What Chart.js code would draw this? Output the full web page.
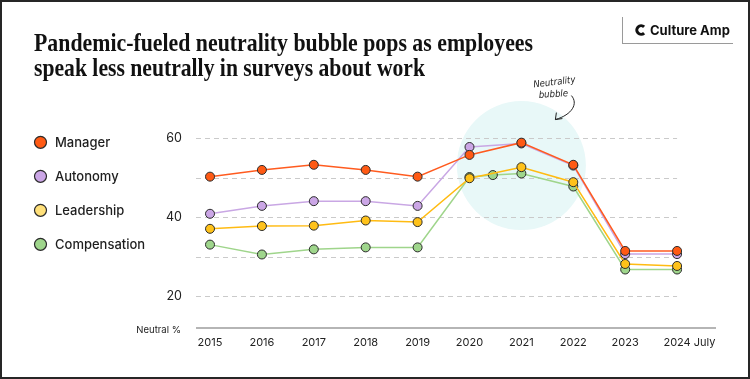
<!DOCTYPE html>
<html><head><meta charset="utf-8">
<script src="https://cdn.jsdelivr.net/npm/chart.js@4.4.1/dist/chart.umd.min.js"></script>
<style>
html,body{margin:0;padding:0;background:#fff;}
#wrap{position:relative;width:750px;height:379px;overflow:hidden;background:#fff;}
#frame{position:absolute;left:0;top:0;width:750px;height:379px;box-sizing:border-box;border:2px solid #262626;pointer-events:none;}
.tl{position:absolute;left:34px;white-space:nowrap;transform-origin:0 0;font-family:'Liberation Serif',serif;font-weight:700;font-size:25.5px;line-height:24px;color:#111;}
#logo{position:absolute;left:622px;top:17px;width:110px;height:26px;border-left:1px solid #9a9a9a;border-bottom:1px solid #9a9a9a;}
#logo svg{position:absolute;left:12px;top:7px;}
#logo span{position:absolute;left:27px;top:5px;font-family:Inter,'Noto Sans',sans-serif;font-weight:700;font-size:13px;line-height:16px;color:#111;white-space:nowrap;}
canvas{position:absolute;left:0;top:0;}
</style></head>
<body>
<div id="wrap">
<canvas id="c" width="750" height="379"></canvas>
<div class="tl" id="t1" style="top:31px">Pandemic-fueled neutrality bubble pops as employees</div>
<div class="tl" id="t2" style="top:55.5px">speak less neutrally in surveys about work</div>
<div id="logo"><svg width="12" height="12" viewBox="0 0 12 12"><path d="M9.1 2.9 A4.3 4.3 0 1 0 9.1 9.1" stroke="#111" stroke-width="3.1" fill="none"/></svg><span>Culture Amp</span></div>
<div id="frame"></div>
</div>
<script>
const years = [2015, 2016, 2017, 2018, 2019, 2020, 2021, 2022, 2023, 2024];
const xLabels = ['2015', '2016', '2017', '2018', '2019', '2020', '2021', '2022', '2023', '2024 July'];
const managerVals = [50.3, 52.0, 53.3, 52.0, 50.3, 55.8, 58.9, 53.3, 31.5, 31.5];
const autonomyVals = [40.9, 42.9, 44.1, 44.1, 42.9, 57.8, 58.7, 53.1, 30.7, 30.7];
const leadershipVals = [37.1, 37.8, 37.9, 39.2, 38.8, 49.9, 52.7, 48.9, 28.2, 27.7];
const compensationYears = [2015, 2016, 2017, 2018, 2019, 2020, 2020.45, 2021, 2022, 2023, 2024];
const compensationVals = [33.1, 30.6, 31.9, 32.4, 32.4, 50.2, 50.7, 51.1, 47.8, 26.8, 26.8];
const seriesNames = ['Manager', 'Autonomy', 'Leadership', 'Compensation'];
const yGridValues = [20, 30, 40, 50, 60];
const yLabelValues = [20, 40, 60];
const bubbleCenter = {x: 2021, y: 53.1};
const axisTitle = 'Neutral %';
const annotationLines = ['Neutrality', 'bubble'];

// fit title lines to reference widths
(function(){
  const m = document.createElement('canvas').getContext('2d');
  m.font = "700 25.5px 'Liberation Serif'";
  [['t1', 499], ['t2', 391]].forEach(([id, w]) => {
    const el = document.getElementById(id);
    const mw = m.measureText(el.textContent).width;
    el.style.transform = 'scaleX(' + (w / mw) + ')';
  });
})();

const pts = (xs, ys) => ys.map((v, i) => ({x: xs[i], y: v}));
const styles = [
  {line: '#ff5b1f', fill: '#ff5a14', legend: '#ff5a14'},
  {line: '#c9a7e4', fill: '#cba6e6', legend: '#cba6e6'},
  {line: '#ffbb12', fill: '#ffc21a', legend: '#ffe07a'},
  {line: '#9fd58b', fill: '#9fd68c', legend: '#9fd68c'}
];
const seriesData = [pts(years, managerVals), pts(years, autonomyVals), pts(years, leadershipVals), pts(compensationYears, compensationVals)];

const FONT = "Inter, 'Noto Sans', sans-serif";

const deco = {
  id: 'deco',
  beforeDatasetsDraw(chart) {
    const {ctx, chartArea: a, scales: {x, y}} = chart;
    ctx.save();
    // bubble
    const cx = x.getPixelForValue(bubbleCenter.x), cy = y.getPixelForValue(bubbleCenter.y);
    ctx.fillStyle = '#e8f8f8';
    ctx.beginPath(); ctx.arc(cx, cy, 64.5, 0, Math.PI * 2); ctx.fill();
    // gridlines
    const xEnd = x.getPixelForValue(years[years.length - 1]);
    ctx.strokeStyle = '#cacaca'; ctx.lineWidth = 1; ctx.setLineDash([5, 4]);
    yGridValues.forEach(v => {
      const py = Math.round(y.getPixelForValue(v)) + 0.5;
      ctx.beginPath(); ctx.moveTo(a.left, py); ctx.lineTo(xEnd, py); ctx.stroke();
    });
    ctx.setLineDash([]);
    // baseline axis
    ctx.strokeStyle = '#9c9c9c'; ctx.lineWidth = 1.5;
    ctx.beginPath(); ctx.moveTo(a.left, a.bottom); ctx.lineTo(a.right, a.bottom); ctx.stroke();
    // axis title
    ctx.fillStyle = '#222'; ctx.font = '9.5px ' + FONT;
    ctx.textAlign = 'right'; ctx.textBaseline = 'middle';
    ctx.fillText(axisTitle, a.left - 15, a.bottom + 2);
    // x labels
    ctx.font = '11px ' + FONT; ctx.textAlign = 'left';
    years.forEach((yr, i) => {
      const px = x.getPixelForValue(yr);
      const w0 = ctx.measureText(String(yr)).width;
      ctx.fillText(xLabels[i], px - w0 / 2, a.bottom + 14.5);
    });
    // annotation
    ctx.fillStyle = '#222';
    ctx.font = "italic 9.5px 'DejaVu Sans Condensed', 'DejaVu Sans', sans-serif";
    ctx.textAlign = 'center';
    ctx.save(); ctx.translate(cx + 33, cy - 83); ctx.rotate(-0.12); ctx.fillText(annotationLines[0], 0, 0); ctx.restore();
    ctx.save(); ctx.translate(cx + 32, cy - 71); ctx.rotate(-0.06); ctx.fillText(annotationLines[1], 0, 0); ctx.restore();
    ctx.strokeStyle = '#222'; ctx.lineWidth = 1;
    ctx.beginPath(); ctx.moveTo(cx + 50, cy - 70);
    ctx.bezierCurveTo(cx + 57, cy - 62, cx + 51, cy - 51, cx + 34, cy - 46); ctx.stroke();
    ctx.beginPath(); ctx.moveTo(cx + 35, cy - 53); ctx.lineTo(cx + 34, cy - 46); ctx.lineTo(cx + 41, cy - 47); ctx.stroke();
    // legend
    ctx.font = '500 13px ' + FONT; ctx.textAlign = 'left'; ctx.textBaseline = 'middle';
    chart.data.datasets.forEach((ds, i) => {
      const ly = 142.3 + i * 34;
      ctx.fillStyle = ds.legendColor; ctx.strokeStyle = '#2b2b2b'; ctx.lineWidth = 1.2;
      ctx.beginPath(); ctx.arc(40.5, ly, 6, 0, Math.PI * 2); ctx.fill(); ctx.stroke();
      ctx.fillStyle = '#1e1e1e';
      ctx.fillText(ds.label, 55, ly + 0.5);
    });
    ctx.restore();
  }
};

new Chart(document.getElementById('c'), {
  type: 'line',
  data: {
    datasets: seriesNames.map((n, i) => ({
      label: n,
      data: seriesData[i],
      borderColor: styles[i].line,
      backgroundColor: styles[i].fill,
      pointBackgroundColor: styles[i].fill,
      pointBorderColor: '#2b2b2b',
      pointBorderWidth: 1,
      pointRadius: 4.5,
      borderWidth: 1.5,
      tension: 0,
      legendColor: styles[i].legend
    }))
  },
  options: {
    responsive: false,
    devicePixelRatio: 1,
    animation: false,
    events: [],
    layout: {padding: {left: 0, right: 34, top: 118.55, bottom: 51}},
    plugins: {legend: {display: false}, tooltip: {enabled: false}, title: {display: false}},
    scales: {
      x: {type: 'linear', min: 2014.73, max: 2024.75, display: false},
      y: {
        type: 'linear', min: 12, max: 65,
        grid: {display: false, drawTicks: false},
        border: {display: false},
        afterFit(s) { s.width = 196; },
        afterBuildTicks(s) { s.ticks = yGridValues.map(v => ({value: v})); },
        ticks: {
          padding: 14, color: '#222', font: {family: FONT, size: 12.5},
          callback: v => yLabelValues.includes(v) ? String(v) : ''
        }
      }
    }
  },
  plugins: [deco]
});
</script>
</body></html>
